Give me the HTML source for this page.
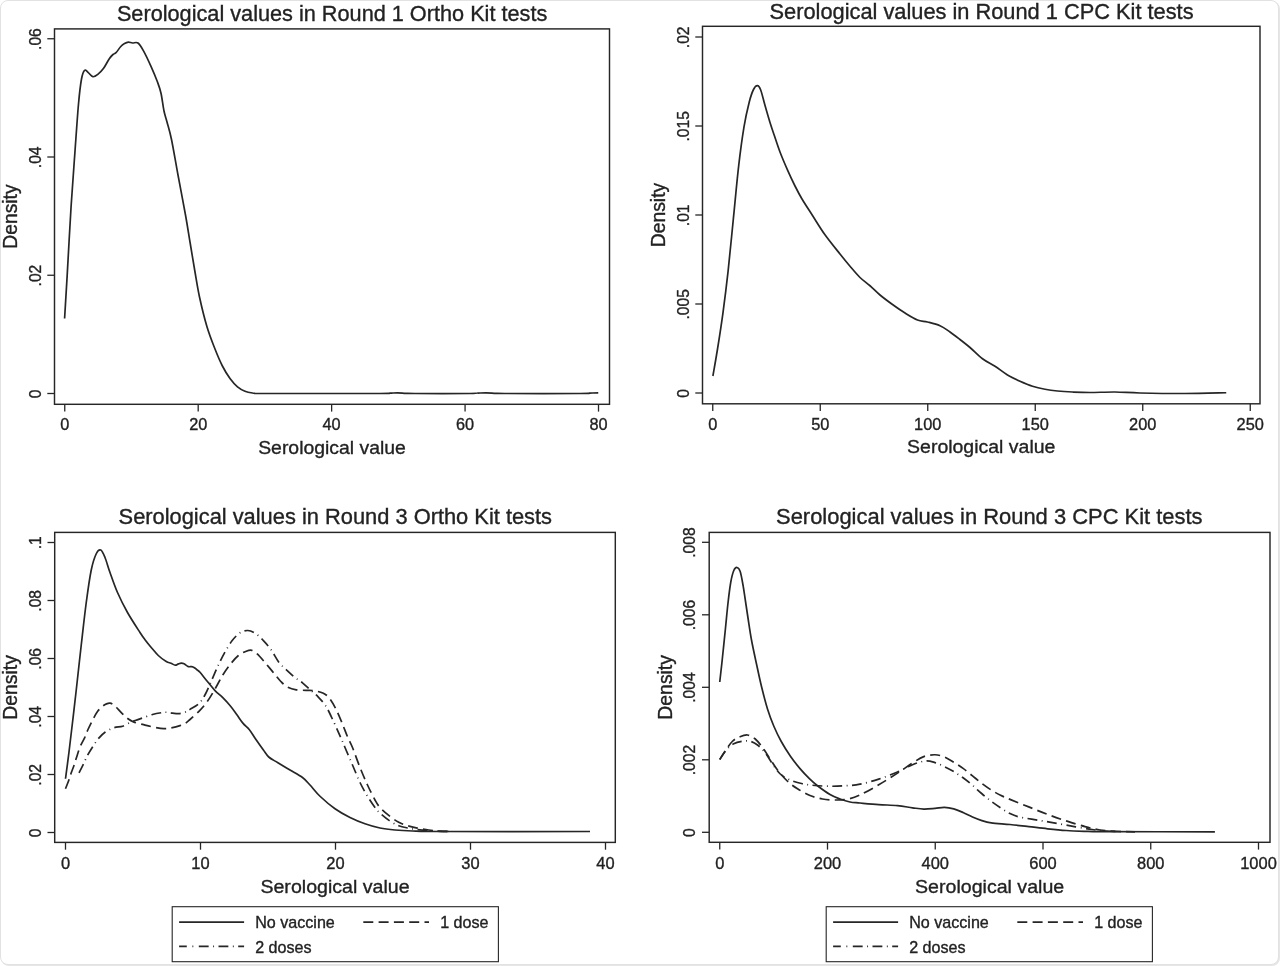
<!DOCTYPE html>
<html lang="en"><head><meta charset="utf-8"><title>Serological value densities</title>
<style>html,body{margin:0;padding:0;background:#fff}body{width:1280px;height:966px;overflow:hidden;position:relative}.card{position:absolute;left:0;top:0;width:1279px;height:965px;background:#fff;border:1px solid #e2e2e2;border-radius:8px;box-sizing:border-box;box-shadow:1px 1px 0 0 #e6e6e6}svg{position:absolute;left:0;top:0;display:block;filter:blur(0.3px)}text{font-family:"Liberation Sans", sans-serif;fill:#222;stroke:#222;stroke-width:0.35px}</style></head><body><div class="card"></div>
<svg width="1280" height="966" viewBox="0 0 1280 966">
<g>
<rect x="54.50" y="28.90" width="555.00" height="375.40" fill="#fff" stroke="#262626" stroke-width="1.45"/>
<text x="332.10" y="21.20" font-size="21.70" text-anchor="middle">Serological values in Round 1 Ortho Kit tests</text>
<line x1="64.75" y1="404.30" x2="64.75" y2="411.60" stroke="#262626" stroke-width="1.3"/>
<text x="64.75" y="430.30" font-size="16.30" text-anchor="middle">0</text>
<line x1="198.19" y1="404.30" x2="198.19" y2="411.60" stroke="#262626" stroke-width="1.3"/>
<text x="198.19" y="430.30" font-size="16.30" text-anchor="middle">20</text>
<line x1="331.63" y1="404.30" x2="331.63" y2="411.60" stroke="#262626" stroke-width="1.3"/>
<text x="331.63" y="430.30" font-size="16.30" text-anchor="middle">40</text>
<line x1="465.07" y1="404.30" x2="465.07" y2="411.60" stroke="#262626" stroke-width="1.3"/>
<text x="465.07" y="430.30" font-size="16.30" text-anchor="middle">60</text>
<line x1="598.51" y1="404.30" x2="598.51" y2="411.60" stroke="#262626" stroke-width="1.3"/>
<text x="598.51" y="430.30" font-size="16.30" text-anchor="middle">80</text>
<text transform="translate(332.00 453.90) scale(1 0.94)" font-size="19.40" text-anchor="middle">Serological value</text>
<line x1="47.30" y1="393.50" x2="54.50" y2="393.50" stroke="#262626" stroke-width="1.3"/>
<text transform="translate(40.70 393.80) rotate(-90)" font-size="15.60" text-anchor="middle">0</text>
<line x1="47.30" y1="275.25" x2="54.50" y2="275.25" stroke="#262626" stroke-width="1.3"/>
<text transform="translate(40.70 275.55) rotate(-90)" font-size="15.60" text-anchor="middle">.02</text>
<line x1="47.30" y1="157.00" x2="54.50" y2="157.00" stroke="#262626" stroke-width="1.3"/>
<text transform="translate(40.70 157.30) rotate(-90)" font-size="15.60" text-anchor="middle">.04</text>
<line x1="47.30" y1="38.75" x2="54.50" y2="38.75" stroke="#262626" stroke-width="1.3"/>
<text transform="translate(40.70 39.05) rotate(-90)" font-size="15.60" text-anchor="middle">.06</text>
<text transform="translate(17.20 216.60) rotate(-90)" font-size="19.30" text-anchor="middle">Density</text>
<path d="M64.60 318.50C65.03 311.27 66.12 293.82 67.20 275.10C68.28 256.38 69.82 226.62 71.10 206.20C72.38 185.78 73.67 169.63 74.90 152.60C76.13 135.57 77.40 116.27 78.50 104.00C79.60 91.73 80.48 84.62 81.50 79.00C82.52 73.38 83.47 71.37 84.60 70.30C85.73 69.23 86.92 71.53 88.30 72.60C89.68 73.67 91.32 76.40 92.90 76.70C94.48 77.00 96.02 75.80 97.80 74.40C99.58 73.00 101.68 70.92 103.60 68.30C105.52 65.68 107.73 61.00 109.30 58.70C110.87 56.40 111.88 55.50 113.00 54.50C114.12 53.50 114.70 54.03 116.00 52.70C117.30 51.37 119.38 48.02 120.80 46.50C122.22 44.98 123.25 44.33 124.50 43.60C125.75 42.87 126.97 42.20 128.30 42.10C129.63 42.00 130.88 42.85 132.50 43.00C134.12 43.15 136.17 41.70 138.00 43.00C139.83 44.30 141.33 46.92 143.50 50.80C145.67 54.68 148.70 61.18 151.00 66.30C153.30 71.42 155.63 77.02 157.30 81.50C158.97 85.98 159.88 88.28 161.00 93.20C162.12 98.12 163.00 106.20 164.00 111.00C165.00 115.80 165.75 117.25 167.00 122.00C168.25 126.75 169.67 130.67 171.50 139.50C173.33 148.33 175.67 162.42 178.00 175.00C180.33 187.58 183.50 203.83 185.50 215.00C187.50 226.17 188.42 232.50 190.00 242.00C191.58 251.50 193.42 262.83 195.00 272.00C196.58 281.17 197.52 287.92 199.50 297.00C201.48 306.08 204.35 317.92 206.90 326.50C209.45 335.08 212.22 341.92 214.80 348.50C217.38 355.08 219.87 361.00 222.40 366.00C224.93 371.00 227.48 375.03 230.00 378.50C232.52 381.97 235.00 384.68 237.50 386.80C240.00 388.92 242.50 390.17 245.00 391.20C247.50 392.23 250.00 392.62 252.50 393.00C255.00 393.38 252.08 393.42 260.00 393.50C267.92 393.58 280.00 393.50 300.00 393.50C320.00 393.50 365.00 393.55 380.00 393.50C395.00 393.45 387.08 393.32 390.00 393.20C392.92 393.08 394.83 392.78 397.50 392.80C400.17 392.82 403.08 393.18 406.00 393.30C408.92 393.42 404.33 393.47 415.00 393.50C425.67 393.53 459.50 393.57 470.00 393.50C480.50 393.43 475.33 393.22 478.00 393.10C480.67 392.98 483.00 392.77 486.00 392.80C489.00 392.83 492.83 393.18 496.00 393.30C499.17 393.42 491.00 393.47 505.00 393.50C519.00 393.53 565.83 393.57 580.00 393.50C594.17 393.43 586.96 393.22 590.00 393.10C593.04 392.98 596.88 392.85 598.25 392.80" fill="none" stroke="#262626" stroke-width="1.70" stroke-linejoin="round"/>
</g>
<g>
<rect x="702.50" y="26.30" width="557.50" height="377.50" fill="#fff" stroke="#262626" stroke-width="1.45"/>
<text x="981.55" y="19.30" font-size="21.80" text-anchor="middle">Serological values in Round 1 CPC Kit tests</text>
<line x1="712.75" y1="403.80" x2="712.75" y2="411.10" stroke="#262626" stroke-width="1.3"/>
<text x="712.75" y="429.92" font-size="16.37" text-anchor="middle">0</text>
<line x1="820.25" y1="403.80" x2="820.25" y2="411.10" stroke="#262626" stroke-width="1.3"/>
<text x="820.25" y="429.92" font-size="16.37" text-anchor="middle">50</text>
<line x1="927.75" y1="403.80" x2="927.75" y2="411.10" stroke="#262626" stroke-width="1.3"/>
<text x="927.75" y="429.92" font-size="16.37" text-anchor="middle">100</text>
<line x1="1035.25" y1="403.80" x2="1035.25" y2="411.10" stroke="#262626" stroke-width="1.3"/>
<text x="1035.25" y="429.92" font-size="16.37" text-anchor="middle">150</text>
<line x1="1142.75" y1="403.80" x2="1142.75" y2="411.10" stroke="#262626" stroke-width="1.3"/>
<text x="1142.75" y="429.92" font-size="16.37" text-anchor="middle">200</text>
<line x1="1250.25" y1="403.80" x2="1250.25" y2="411.10" stroke="#262626" stroke-width="1.3"/>
<text x="1250.25" y="429.92" font-size="16.37" text-anchor="middle">250</text>
<text transform="translate(981.25 453.40) scale(1 0.94)" font-size="19.49" text-anchor="middle">Serological value</text>
<line x1="695.30" y1="393.00" x2="702.50" y2="393.00" stroke="#262626" stroke-width="1.3"/>
<text transform="translate(688.70 393.30) rotate(-90)" font-size="15.60" text-anchor="middle">0</text>
<line x1="695.30" y1="304.00" x2="702.50" y2="304.00" stroke="#262626" stroke-width="1.3"/>
<text transform="translate(688.70 304.30) rotate(-90)" font-size="15.60" text-anchor="middle">.005</text>
<line x1="695.30" y1="215.00" x2="702.50" y2="215.00" stroke="#262626" stroke-width="1.3"/>
<text transform="translate(688.70 215.30) rotate(-90)" font-size="15.60" text-anchor="middle">.01</text>
<line x1="695.30" y1="126.00" x2="702.50" y2="126.00" stroke="#262626" stroke-width="1.3"/>
<text transform="translate(688.70 126.30) rotate(-90)" font-size="15.60" text-anchor="middle">.015</text>
<line x1="695.30" y1="37.00" x2="702.50" y2="37.00" stroke="#262626" stroke-width="1.3"/>
<text transform="translate(688.70 37.30) rotate(-90)" font-size="15.60" text-anchor="middle">.02</text>
<text transform="translate(665.20 215.05) rotate(-90)" font-size="19.33" text-anchor="middle">Density</text>
<path d="M712.90 376.00C713.68 371.42 715.93 358.95 717.60 348.50C719.27 338.05 721.15 326.20 722.90 313.30C724.65 300.40 726.35 286.93 728.10 271.10C729.85 255.27 731.63 235.88 733.40 218.30C735.17 200.72 736.93 180.83 738.70 165.60C740.47 150.37 742.25 137.47 744.00 126.90C745.75 116.33 747.62 108.43 749.20 102.20C750.78 95.97 752.13 92.27 753.50 89.50C754.87 86.73 756.20 85.52 757.40 85.60C758.60 85.68 759.42 86.63 760.70 90.00C761.98 93.37 763.55 100.38 765.10 105.80C766.65 111.22 768.55 117.82 770.00 122.50C771.45 127.18 772.13 128.98 773.80 133.90C775.47 138.82 777.65 145.83 780.00 152.00C782.35 158.17 785.40 165.23 787.90 170.90C790.40 176.57 792.65 181.32 795.00 186.00C797.35 190.68 799.08 194.08 802.00 199.00C804.92 203.92 808.70 209.58 812.50 215.50C816.30 221.42 820.22 228.08 824.80 234.50C829.38 240.92 835.80 248.71 840.00 254.00C844.20 259.29 846.67 262.33 850.00 266.25C853.33 270.17 856.67 274.25 860.00 277.50C863.33 280.75 866.67 282.83 870.00 285.75C873.33 288.67 876.25 291.88 880.00 295.00C883.75 298.12 888.33 301.50 892.50 304.50C896.67 307.50 900.83 310.42 905.00 313.00C909.17 315.58 913.75 318.50 917.50 320.00C921.25 321.50 923.75 321.04 927.50 322.00C931.25 322.96 936.25 324.08 940.00 325.75C943.75 327.42 946.67 329.71 950.00 332.00C953.33 334.29 956.67 336.92 960.00 339.50C963.33 342.08 966.25 344.29 970.00 347.50C973.75 350.71 978.33 355.62 982.50 358.75C986.67 361.88 990.83 363.54 995.00 366.25C999.17 368.96 1003.33 372.50 1007.50 375.00C1011.67 377.50 1015.83 379.38 1020.00 381.25C1024.17 383.12 1028.33 384.92 1032.50 386.25C1036.67 387.58 1040.83 388.46 1045.00 389.25C1049.17 390.04 1052.92 390.54 1057.50 391.00C1062.08 391.46 1067.08 391.75 1072.50 392.00C1077.92 392.25 1082.92 392.50 1090.00 392.50C1097.08 392.50 1106.67 391.92 1115.00 392.00C1123.33 392.08 1128.33 392.75 1140.00 393.00C1151.67 393.25 1170.62 393.54 1185.00 393.50C1199.38 393.46 1219.38 392.88 1226.25 392.75" fill="none" stroke="#262626" stroke-width="1.70" stroke-linejoin="round"/>
</g>
<g>
<rect x="54.70" y="532.40" width="560.60" height="310.00" fill="#fff" stroke="#262626" stroke-width="1.45"/>
<text x="335.30" y="524.20" font-size="21.85" text-anchor="middle">Serological values in Round 3 Ortho Kit tests</text>
<line x1="65.50" y1="842.40" x2="65.50" y2="849.70" stroke="#262626" stroke-width="1.3"/>
<text x="65.50" y="868.67" font-size="16.47" text-anchor="middle">0</text>
<line x1="200.50" y1="842.40" x2="200.50" y2="849.70" stroke="#262626" stroke-width="1.3"/>
<text x="200.50" y="868.67" font-size="16.47" text-anchor="middle">10</text>
<line x1="335.50" y1="842.40" x2="335.50" y2="849.70" stroke="#262626" stroke-width="1.3"/>
<text x="335.50" y="868.67" font-size="16.47" text-anchor="middle">20</text>
<line x1="470.50" y1="842.40" x2="470.50" y2="849.70" stroke="#262626" stroke-width="1.3"/>
<text x="470.50" y="868.67" font-size="16.47" text-anchor="middle">30</text>
<line x1="605.50" y1="842.40" x2="605.50" y2="849.70" stroke="#262626" stroke-width="1.3"/>
<text x="605.50" y="868.67" font-size="16.47" text-anchor="middle">40</text>
<text transform="translate(335.00 892.70) scale(1 0.94)" font-size="19.60" text-anchor="middle">Serological value</text>
<line x1="47.50" y1="832.50" x2="54.70" y2="832.50" stroke="#262626" stroke-width="1.3"/>
<text transform="translate(40.90 832.80) rotate(-90)" font-size="15.60" text-anchor="middle">0</text>
<line x1="47.50" y1="774.50" x2="54.70" y2="774.50" stroke="#262626" stroke-width="1.3"/>
<text transform="translate(40.90 774.80) rotate(-90)" font-size="15.60" text-anchor="middle">.02</text>
<line x1="47.50" y1="716.50" x2="54.70" y2="716.50" stroke="#262626" stroke-width="1.3"/>
<text transform="translate(40.90 716.80) rotate(-90)" font-size="15.60" text-anchor="middle">.04</text>
<line x1="47.50" y1="658.50" x2="54.70" y2="658.50" stroke="#262626" stroke-width="1.3"/>
<text transform="translate(40.90 658.80) rotate(-90)" font-size="15.60" text-anchor="middle">.06</text>
<line x1="47.50" y1="600.50" x2="54.70" y2="600.50" stroke="#262626" stroke-width="1.3"/>
<text transform="translate(40.90 600.80) rotate(-90)" font-size="15.60" text-anchor="middle">.08</text>
<line x1="47.50" y1="542.50" x2="54.70" y2="542.50" stroke="#262626" stroke-width="1.3"/>
<text transform="translate(40.90 542.80) rotate(-90)" font-size="15.60" text-anchor="middle">.1</text>
<text transform="translate(17.40 687.40) rotate(-90)" font-size="19.36" text-anchor="middle">Density</text>
<path d="M65.50 778.75C66.08 774.29 67.83 761.38 69.00 752.00C70.17 742.62 71.29 732.83 72.50 722.50C73.71 712.17 74.79 702.92 76.25 690.00C77.71 677.08 79.58 659.58 81.25 645.00C82.92 630.42 84.58 615.00 86.25 602.50C87.92 590.00 89.58 578.12 91.25 570.00C92.92 561.88 94.67 557.08 96.25 553.75C97.83 550.42 99.29 549.38 100.75 550.00C102.21 550.62 103.46 553.75 105.00 557.50C106.54 561.25 107.92 566.67 110.00 572.50C112.08 578.33 114.58 585.83 117.50 592.50C120.42 599.17 123.75 605.83 127.50 612.50C131.25 619.17 137.05 627.92 140.00 632.50C142.95 637.08 143.32 637.50 145.20 640.00C147.07 642.50 149.07 644.92 151.25 647.50C153.43 650.08 155.80 653.15 158.30 655.50C160.80 657.85 164.15 660.32 166.25 661.60C168.35 662.88 169.41 662.60 170.90 663.20C172.39 663.80 173.95 665.08 175.20 665.20C176.45 665.32 177.39 664.23 178.40 663.90C179.41 663.57 180.30 663.22 181.25 663.20C182.20 663.18 182.92 663.23 184.10 663.80C185.28 664.37 187.05 666.13 188.30 666.60C189.55 667.07 190.58 666.42 191.60 666.60C192.62 666.78 193.47 667.13 194.40 667.70C195.33 668.27 196.27 669.23 197.20 670.00C198.13 670.77 198.33 670.42 200.00 672.30C201.67 674.17 204.70 678.20 207.20 681.25C209.70 684.30 212.40 687.86 215.00 690.60C217.60 693.34 220.20 695.09 222.80 697.70C225.40 700.31 228.25 703.40 230.60 706.25C232.95 709.10 234.82 711.94 236.90 714.80C238.98 717.66 241.02 720.92 243.10 723.40C245.18 725.88 247.32 727.10 249.40 729.70C251.48 732.30 253.27 735.62 255.60 739.00C257.93 742.38 261.21 747.00 263.40 750.00C265.59 753.00 266.40 754.92 268.75 757.00C271.10 759.08 273.96 760.33 277.50 762.50C281.04 764.67 285.83 767.50 290.00 770.00C294.17 772.50 299.17 775.00 302.50 777.50C305.83 780.00 307.08 781.88 310.00 785.00C312.92 788.12 315.83 792.29 320.00 796.25C324.17 800.21 330.00 805.21 335.00 808.75C340.00 812.29 345.00 815.00 350.00 817.50C355.00 820.00 360.00 822.00 365.00 823.75C370.00 825.50 375.00 826.96 380.00 828.00C385.00 829.04 389.58 829.50 395.00 830.00C400.42 830.50 405.00 830.75 412.50 831.00C420.00 831.25 410.42 831.42 440.00 831.50C469.58 831.58 565.00 831.50 590.00 831.50" fill="none" stroke="#262626" stroke-width="1.70" stroke-linejoin="round"/>
<path d="M65.50 788.75C66.05 787.34 67.88 782.84 68.80 780.30C69.72 777.76 70.17 775.88 71.00 773.50C71.83 771.12 72.88 768.67 73.80 766.00C74.72 763.33 75.47 760.67 76.50 757.50C77.53 754.33 78.65 750.28 80.00 747.00C81.35 743.72 83.27 740.72 84.60 737.80C85.93 734.88 86.68 732.42 88.00 729.50C89.32 726.58 90.92 723.28 92.50 720.30C94.08 717.32 95.83 713.93 97.50 711.60C99.17 709.27 101.00 707.58 102.50 706.30C104.00 705.02 105.25 704.42 106.50 703.90C107.75 703.38 108.92 703.13 110.00 703.20C111.08 703.27 111.92 703.58 113.00 704.30C114.08 705.02 114.92 705.90 116.50 707.50C118.08 709.10 120.58 712.02 122.50 713.90C124.42 715.78 126.17 717.45 128.00 718.80C129.83 720.15 131.08 721.07 133.50 722.00C135.92 722.93 139.33 723.58 142.50 724.40C145.67 725.22 148.96 726.20 152.50 726.90C156.04 727.60 160.42 728.48 163.75 728.60C167.08 728.72 169.79 728.10 172.50 727.60C175.21 727.10 177.92 726.27 180.00 725.60C182.08 724.93 183.33 724.62 185.00 723.60C186.67 722.58 187.60 721.62 190.00 719.50C192.40 717.38 196.53 713.88 199.40 710.90C202.27 707.92 204.60 705.25 207.20 701.60C209.80 697.95 212.40 693.43 215.00 689.00C217.60 684.57 220.20 679.17 222.80 675.00C225.40 670.83 228.00 667.25 230.60 664.00C233.20 660.75 235.79 657.62 238.40 655.50C241.01 653.38 244.03 652.12 246.25 651.25C248.47 650.38 249.88 649.86 251.70 650.30C253.52 650.74 254.98 651.87 257.20 653.90C259.42 655.93 262.40 659.50 265.00 662.50C267.60 665.50 270.20 668.77 272.80 671.90C275.40 675.02 278.25 678.78 280.60 681.25C282.95 683.72 284.29 685.28 286.90 686.70C289.51 688.12 293.13 689.20 296.25 689.80C299.37 690.40 302.74 690.17 305.60 690.30C308.46 690.43 310.53 690.15 313.40 690.60C316.27 691.05 320.20 691.82 322.80 693.00C325.40 694.18 326.92 695.23 329.00 697.70C331.08 700.17 333.20 703.77 335.30 707.80C337.40 711.83 339.52 716.95 341.60 721.90C343.68 726.85 345.98 733.23 347.80 737.50C349.62 741.77 350.47 742.50 352.50 747.50C354.53 752.50 357.50 761.25 360.00 767.50C362.50 773.75 365.00 779.58 367.50 785.00C370.00 790.42 372.92 796.25 375.00 800.00C377.08 803.75 377.60 804.85 380.00 807.50C382.40 810.15 386.27 813.43 389.40 815.90C392.52 818.37 395.63 820.63 398.75 822.30C401.87 823.97 404.98 824.93 408.10 825.90C411.23 826.87 414.06 827.42 417.50 828.10C420.94 828.78 425.00 829.50 428.75 830.00C432.50 830.50 436.12 830.85 440.00 831.10C443.88 831.35 450.00 831.43 452.00 831.50" fill="none" stroke="#262626" stroke-width="1.70" stroke-linejoin="round" stroke-dasharray="10 5.3"/>
<path d="M79.00 772.90C79.72 771.47 81.88 767.22 83.30 764.30C84.72 761.38 85.90 758.37 87.50 755.40C89.10 752.43 91.12 749.27 92.90 746.50C94.68 743.73 96.13 741.22 98.20 738.80C100.27 736.38 102.67 733.85 105.30 732.00C107.93 730.15 111.10 728.67 114.00 727.70C116.90 726.73 119.95 727.10 122.70 726.20C125.45 725.30 128.28 723.28 130.50 722.30C132.72 721.32 134.00 721.02 136.00 720.30C138.00 719.58 139.75 718.97 142.50 718.00C145.25 717.03 149.25 715.40 152.50 714.50C155.75 713.60 159.58 712.97 162.00 712.60C164.42 712.23 165.25 712.22 167.00 712.30C168.75 712.38 170.58 712.87 172.50 713.10C174.42 713.33 176.58 713.80 178.50 713.70C180.42 713.60 182.50 712.95 184.00 712.50C185.50 712.05 186.50 711.52 187.50 711.00C188.50 710.48 188.02 710.72 190.00 709.40C191.98 708.08 196.80 705.71 199.40 703.10C202.00 700.49 203.52 697.65 205.60 693.75C207.68 689.85 209.82 684.39 211.90 679.70C213.98 675.01 216.02 670.03 218.10 665.60C220.18 661.17 222.05 657.27 224.40 653.10C226.75 648.93 229.60 643.98 232.20 640.60C234.80 637.22 237.40 634.48 240.00 632.80C242.60 631.12 245.20 630.37 247.80 630.50C250.40 630.63 253.00 631.92 255.60 633.60C258.20 635.28 260.79 637.87 263.40 640.60C266.01 643.33 268.65 646.35 271.25 650.00C273.85 653.65 276.39 659.12 279.00 662.50C281.61 665.88 284.28 667.83 286.90 670.30C289.52 672.77 292.10 675.22 294.70 677.30C297.30 679.38 299.90 680.72 302.50 682.80C305.10 684.88 307.70 687.45 310.30 689.80C312.90 692.15 315.50 694.16 318.10 696.90C320.70 699.64 323.29 702.08 325.90 706.25C328.51 710.42 331.40 716.96 333.75 721.90C336.10 726.84 338.12 731.63 340.00 735.90C341.88 740.17 342.92 742.65 345.00 747.50C347.08 752.35 350.00 759.17 352.50 765.00C355.00 770.83 357.50 777.29 360.00 782.50C362.50 787.71 365.00 792.08 367.50 796.25C370.00 800.42 372.92 804.69 375.00 807.50C377.08 810.31 377.60 810.92 380.00 813.10C382.40 815.28 386.27 818.50 389.40 820.60C392.52 822.70 395.63 824.45 398.75 825.70C401.87 826.95 404.98 827.45 408.10 828.10C411.23 828.75 414.06 829.16 417.50 829.60C420.94 830.04 425.00 830.47 428.75 830.75C432.50 831.03 436.46 831.17 440.00 831.30C443.54 831.42 448.33 831.47 450.00 831.50" fill="none" stroke="#262626" stroke-width="1.70" stroke-linejoin="round" stroke-dasharray="9.85 4.5 0.9 4.45"/>
<rect x="172.20" y="906.70" width="326.20" height="55.00" fill="#fff" stroke="#262626" stroke-width="1.1"/>
<line x1="179.10" y1="922.10" x2="244.10" y2="922.10" stroke="#262626" stroke-width="1.70"/>
<text x="255.20" y="928.40" font-size="16.1">No vaccine</text>
<line x1="363.30" y1="922.10" x2="429.00" y2="922.10" stroke="#262626" stroke-width="1.70" stroke-dasharray="10 5.3"/>
<text x="440.20" y="928.40" font-size="16.1">1 dose</text>
<line x1="179.10" y1="946.30" x2="244.10" y2="946.30" stroke="#262626" stroke-width="1.70" stroke-dasharray="7.7 5.6 0.9 5.5 9.85 4.5 0.9 4.45 9.85 4.5 0.9 4.45 9.85"/>
<text x="255.20" y="952.60" font-size="16.1">2 doses</text>
</g>
<g>
<rect x="709.20" y="532.40" width="560.80" height="309.90" fill="#fff" stroke="#262626" stroke-width="1.45"/>
<text x="989.30" y="524.20" font-size="21.93" text-anchor="middle">Serological values in Round 3 CPC Kit tests</text>
<line x1="719.75" y1="842.30" x2="719.75" y2="849.60" stroke="#262626" stroke-width="1.3"/>
<text x="719.75" y="868.57" font-size="16.47" text-anchor="middle">0</text>
<line x1="827.50" y1="842.30" x2="827.50" y2="849.60" stroke="#262626" stroke-width="1.3"/>
<text x="827.50" y="868.57" font-size="16.47" text-anchor="middle">200</text>
<line x1="935.25" y1="842.30" x2="935.25" y2="849.60" stroke="#262626" stroke-width="1.3"/>
<text x="935.25" y="868.57" font-size="16.47" text-anchor="middle">400</text>
<line x1="1043.00" y1="842.30" x2="1043.00" y2="849.60" stroke="#262626" stroke-width="1.3"/>
<text x="1043.00" y="868.57" font-size="16.47" text-anchor="middle">600</text>
<line x1="1150.75" y1="842.30" x2="1150.75" y2="849.60" stroke="#262626" stroke-width="1.3"/>
<text x="1150.75" y="868.57" font-size="16.47" text-anchor="middle">800</text>
<line x1="1258.50" y1="842.30" x2="1258.50" y2="849.60" stroke="#262626" stroke-width="1.3"/>
<text x="1258.50" y="868.57" font-size="16.47" text-anchor="middle">1000</text>
<text transform="translate(989.60 892.60) scale(1 0.94)" font-size="19.60" text-anchor="middle">Serological value</text>
<line x1="702.00" y1="832.30" x2="709.20" y2="832.30" stroke="#262626" stroke-width="1.3"/>
<text transform="translate(695.40 832.60) rotate(-90)" font-size="15.60" text-anchor="middle">0</text>
<line x1="702.00" y1="759.80" x2="709.20" y2="759.80" stroke="#262626" stroke-width="1.3"/>
<text transform="translate(695.40 760.10) rotate(-90)" font-size="15.60" text-anchor="middle">.002</text>
<line x1="702.00" y1="687.30" x2="709.20" y2="687.30" stroke="#262626" stroke-width="1.3"/>
<text transform="translate(695.40 687.60) rotate(-90)" font-size="15.60" text-anchor="middle">.004</text>
<line x1="702.00" y1="614.80" x2="709.20" y2="614.80" stroke="#262626" stroke-width="1.3"/>
<text transform="translate(695.40 615.10) rotate(-90)" font-size="15.60" text-anchor="middle">.006</text>
<line x1="702.00" y1="542.30" x2="709.20" y2="542.30" stroke="#262626" stroke-width="1.3"/>
<text transform="translate(695.40 542.60) rotate(-90)" font-size="15.60" text-anchor="middle">.008</text>
<text transform="translate(671.90 687.35) rotate(-90)" font-size="19.36" text-anchor="middle">Density</text>
<path d="M719.75 682.00C720.17 678.17 721.34 668.00 722.30 659.00C723.26 650.00 724.55 637.33 725.50 628.00C726.45 618.67 727.12 610.67 728.00 603.00C728.88 595.33 729.83 587.42 730.80 582.00C731.77 576.58 732.77 572.92 733.80 570.50C734.83 568.08 735.93 567.33 737.00 567.50C738.07 567.67 739.20 568.58 740.20 571.50C741.20 574.42 742.15 580.25 743.00 585.00C743.85 589.75 744.47 594.50 745.30 600.00C746.13 605.50 746.97 611.33 748.00 618.00C749.03 624.67 750.08 632.33 751.50 640.00C752.92 647.67 754.83 656.25 756.50 664.00C758.17 671.75 759.67 679.00 761.50 686.50C763.33 694.00 765.46 702.42 767.50 709.00C769.54 715.58 771.46 720.58 773.75 726.00C776.04 731.42 778.44 736.42 781.25 741.50C784.06 746.58 787.48 751.98 790.60 756.50C793.73 761.02 796.87 764.92 800.00 768.60C803.13 772.28 806.43 775.70 809.40 778.60C812.37 781.50 814.37 783.35 817.80 786.00C821.23 788.65 826.30 792.33 830.00 794.50C833.70 796.67 836.67 797.75 840.00 799.00C843.33 800.25 846.67 801.33 850.00 802.00C853.33 802.67 855.21 802.57 860.00 803.00C864.79 803.43 872.50 804.17 878.75 804.60C885.00 805.03 891.88 805.07 897.50 805.60C903.12 806.13 908.12 807.22 912.50 807.80C916.88 808.38 920.00 809.00 923.75 809.10C927.50 809.20 931.56 808.68 935.00 808.40C938.44 808.12 941.27 807.32 944.40 807.40C947.52 807.48 950.63 808.05 953.75 808.90C956.87 809.75 959.98 811.15 963.10 812.50C966.23 813.85 969.37 815.65 972.50 817.00C975.63 818.35 978.77 819.63 981.90 820.60C985.02 821.57 986.57 822.15 991.25 822.80C995.93 823.45 1003.75 823.87 1010.00 824.50C1016.25 825.13 1022.50 825.88 1028.75 826.60C1035.00 827.32 1041.25 828.15 1047.50 828.80C1053.75 829.45 1060.00 830.08 1066.25 830.50C1072.50 830.92 1078.59 831.10 1085.00 831.30C1091.41 831.50 1083.05 831.62 1104.70 831.70C1126.35 831.78 1196.53 831.78 1214.90 831.80" fill="none" stroke="#262626" stroke-width="1.70" stroke-linejoin="round"/>
<path d="M719.75 759.50C720.62 758.12 722.88 754.29 725.00 751.25C727.12 748.21 730.00 743.67 732.50 741.25C735.00 738.83 737.50 737.79 740.00 736.75C742.50 735.71 745.00 734.67 747.50 735.00C750.00 735.33 752.50 736.67 755.00 738.75C757.50 740.83 760.00 744.17 762.50 747.50C765.00 750.83 767.50 755.00 770.00 758.75C772.50 762.50 774.58 766.25 777.50 770.00C780.42 773.75 784.17 778.12 787.50 781.25C790.83 784.38 793.75 786.38 797.50 788.75C801.25 791.12 805.83 793.79 810.00 795.50C814.17 797.21 818.33 798.25 822.50 799.00C826.67 799.75 830.83 799.96 835.00 800.00C839.17 800.04 843.33 800.08 847.50 799.25C851.67 798.42 854.79 797.41 860.00 795.00C865.21 792.59 872.50 788.45 878.75 784.80C885.00 781.15 891.88 776.73 897.50 773.10C903.12 769.47 908.12 765.75 912.50 763.00C916.88 760.25 920.00 757.98 923.75 756.60C927.50 755.23 931.56 754.68 935.00 754.75C938.44 754.82 941.27 755.74 944.40 757.00C947.52 758.26 950.63 760.40 953.75 762.30C956.87 764.20 959.98 766.13 963.10 768.40C966.23 770.67 969.37 773.40 972.50 775.90C975.63 778.40 978.77 781.05 981.90 783.40C985.02 785.75 988.13 788.02 991.25 790.00C994.37 791.98 997.48 793.68 1000.60 795.25C1003.73 796.82 1005.31 797.46 1010.00 799.40C1014.69 801.34 1022.50 804.40 1028.75 806.90C1035.00 809.40 1041.25 812.07 1047.50 814.40C1053.75 816.73 1060.00 818.87 1066.25 820.90C1072.50 822.93 1079.38 825.08 1085.00 826.60C1090.62 828.12 1094.95 829.22 1100.00 830.00C1105.05 830.78 1109.47 831.00 1115.30 831.30C1121.13 831.60 1131.72 831.72 1135.00 831.80" fill="none" stroke="#262626" stroke-width="1.70" stroke-linejoin="round" stroke-dasharray="10 5.3"/>
<path d="M719.75 759.50C720.83 757.92 723.92 752.62 726.25 750.00C728.58 747.38 731.04 745.21 733.75 743.75C736.46 742.29 739.79 741.67 742.50 741.25C745.21 740.83 747.50 740.62 750.00 741.25C752.50 741.88 755.00 743.12 757.50 745.00C760.00 746.88 762.50 749.38 765.00 752.50C767.50 755.62 770.00 760.21 772.50 763.75C775.00 767.29 777.08 771.04 780.00 773.75C782.92 776.46 786.25 778.33 790.00 780.00C793.75 781.67 798.33 782.83 802.50 783.75C806.67 784.67 810.42 785.08 815.00 785.50C819.58 785.92 825.00 786.21 830.00 786.25C835.00 786.29 840.00 786.09 845.00 785.75C850.00 785.41 854.38 785.31 860.00 784.20C865.62 783.09 872.50 781.13 878.75 779.10C885.00 777.07 891.88 774.40 897.50 772.00C903.12 769.60 907.82 766.55 912.50 764.70C917.18 762.85 921.85 761.25 925.60 760.90C929.35 760.55 931.87 761.65 935.00 762.60C938.13 763.55 941.27 765.10 944.40 766.60C947.52 768.10 950.63 769.73 953.75 771.60C956.87 773.47 959.98 775.52 963.10 777.80C966.23 780.08 969.37 782.64 972.50 785.30C975.63 787.96 978.77 791.09 981.90 793.75C985.02 796.41 988.13 798.91 991.25 801.25C994.37 803.59 997.48 805.74 1000.60 807.80C1003.73 809.86 1006.87 812.07 1010.00 813.60C1013.13 815.13 1014.72 815.90 1019.40 817.00C1024.08 818.10 1031.85 819.13 1038.10 820.20C1044.35 821.27 1050.65 822.30 1056.90 823.40C1063.15 824.50 1069.75 825.78 1075.60 826.80C1081.45 827.82 1086.93 828.80 1092.00 829.50C1097.07 830.20 1100.50 830.63 1106.00 831.00C1111.50 831.37 1121.83 831.58 1125.00 831.70" fill="none" stroke="#262626" stroke-width="1.70" stroke-linejoin="round" stroke-dasharray="9.85 4.5 0.9 4.45"/>
<rect x="826.20" y="906.70" width="326.20" height="55.00" fill="#fff" stroke="#262626" stroke-width="1.1"/>
<line x1="833.10" y1="922.10" x2="898.10" y2="922.10" stroke="#262626" stroke-width="1.70"/>
<text x="909.20" y="928.40" font-size="16.1">No vaccine</text>
<line x1="1017.30" y1="922.10" x2="1083.00" y2="922.10" stroke="#262626" stroke-width="1.70" stroke-dasharray="10 5.3"/>
<text x="1094.20" y="928.40" font-size="16.1">1 dose</text>
<line x1="833.10" y1="946.30" x2="898.10" y2="946.30" stroke="#262626" stroke-width="1.70" stroke-dasharray="7.7 5.6 0.9 5.5 9.85 4.5 0.9 4.45 9.85 4.5 0.9 4.45 9.85"/>
<text x="909.20" y="952.60" font-size="16.1">2 doses</text>
</g>
</svg></body></html>
